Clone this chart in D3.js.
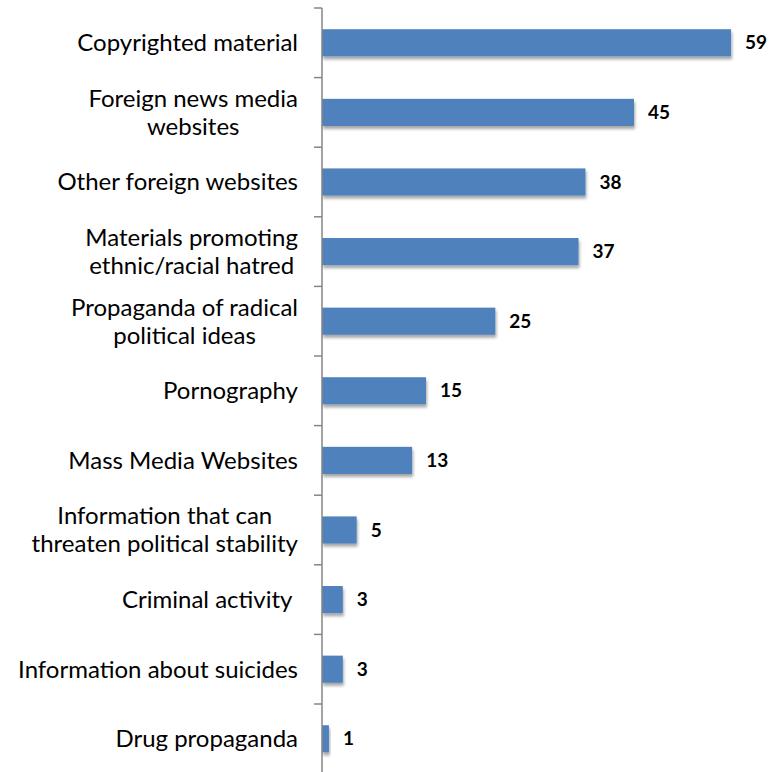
<!DOCTYPE html>
<html><head><meta charset="utf-8">
<script src="https://cdn.jsdelivr.net/npm/d3@7"></script>
<style>body{margin:0;background:#fff}svg{display:block}</style>
</head><body>
<svg id="c" width="781" height="772"></svg>
<script>
const categories = [
  ["Copyrighted material"],
  ["Foreign news media", "websites"],
  ["Other foreign websites"],
  ["Materials promoting", "ethnic/racial hatred"],
  ["Propaganda of radical", "political ideas"],
  ["Pornography"],
  ["Mass Media Websites"],
  ["Information that can", "threaten political stability"],
  ["Criminal activity "],
  ["Information about suicides"],
  ["Drug propaganda"]
];
const values = [59, 45, 38, 37, 25, 15, 13, 5, 3, 3, 1];

(function(){
const svg = d3.select("#c");
const axisX = 322, y0 = 8, band = 69.6;
const keys = categories.map((d,i)=>i);
const y = d3.scaleBand().domain(keys).range([y0, y0 + band*keys.length]).paddingInner(0.61).paddingOuter(0.305);
const x = d3.scaleLinear().domain([0, 60]).range([axisX, axisX + 416]);

const defs = svg.append("defs");
const f = defs.append("filter").attr("id","sh").attr("x","-10%").attr("y","-30%").attr("width","130%").attr("height","180%");
f.append("feDropShadow").attr("dx",1).attr("dy",3).attr("stdDeviation",1.8).attr("flood-color","#000").attr("flood-opacity",0.35);

svg.append("g").selectAll("rect").data(values).join("rect")
  .attr("x", x(0)).attr("y",(d,i)=>y(i)).attr("width",d=>x(d)-x(0)).attr("height",y.bandwidth())
  .attr("fill","#4F81BD").attr("filter","url(#sh)");

const bands = d3.scaleLinear().domain([0, keys.length]).range([y0, y0+band*keys.length]);
const g = svg.append("g").attr("transform",`translate(${axisX},0)`);
g.append("line").attr("x1",0).attr("x2",0).attr("y1",y0).attr("y2",772).attr("stroke","#868686").attr("stroke-width",1.5);
g.selectAll("line.t").data(d3.range(keys.length+1)).join("line").attr("class","t")
  .attr("x1",-8).attr("x2",0).attr("y1",d=>bands(d)).attr("y2",d=>bands(d)).attr("stroke","#868686").attr("stroke-width",1.5);

const lab = svg.append("g").attr("font-family","Lato, 'Open Sans', sans-serif").attr("font-size",24).attr("fill","#000").attr("text-anchor","middle");
const right = axisX - 24;
categories.forEach((lines,i)=>{
  const cy = y(i) + y.bandwidth()/2;
  const lh = 28;
  const t = lab.append("text").attr("xml:space","preserve");
  const spans = lines.map((s,j)=> t.append("tspan").attr("y", cy + (j-(lines.length-1)/2)*lh).attr("dy","0.35em").text(s));
  const w = d3.max(spans, sp => sp.node().getComputedTextLength());
  spans.forEach(sp => sp.attr("x", right - w/2));
});

svg.append("g").selectAll("text").data(values).join("text")
  .attr("x",d=>x(d)+14).attr("y",(d,i)=>y(i)+y.bandwidth()/2).attr("dy","0.35em")
  .attr("font-family","Lato, 'Open Sans', sans-serif").attr("font-weight","bold").attr("font-size",19).attr("fill","#000")
  .text(d=>d);
})();
</script>
</body></html>
